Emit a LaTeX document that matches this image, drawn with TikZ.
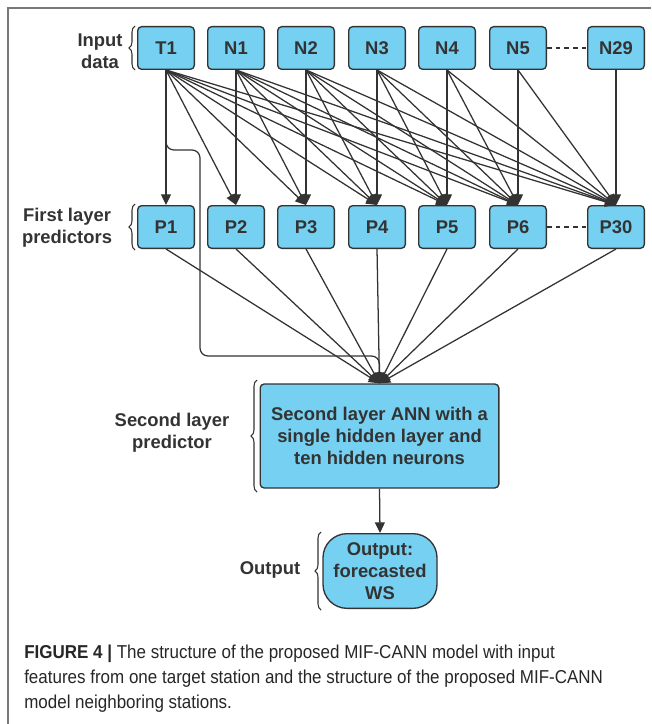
\documentclass[tikz,border=0pt]{standalone}
\usepackage{fontspec}
\setmainfont{Liberation Sans}
\newfontfamily\capfont{Liberation Sans}[FakeStretch=0.91]
\usepackage{tikz}
\usetikzlibrary{arrows.meta,decorations.pathreplacing}
\definecolor{boxblue}{RGB}{117,208,241}
\definecolor{dgray}{RGB}{51,51,51}
\definecolor{framegray}{RGB}{120,120,120}
\begin{document}
\begin{tikzpicture}[x=0.75pt,y=-0.75pt,
	box/.style={draw=dgray,fill=boxblue,line width=1pt,rounded corners=3pt,minimum width=42.5pt,minimum height=32pt,inner sep=0pt,text=dgray,font=\fontsize{13.8}{16.5}\selectfont\bfseries},
	lbl/.style={align=center,text=dgray,font=\fontsize{13.8}{16.8}\selectfont\bfseries},
	link/.style={draw=dgray,line width=0.95pt,-{Triangle[length=8pt,width=7.5pt]}},
	brc/.style={draw=dgray,line width=0.8pt,decorate,decoration={brace,amplitude=4.5pt}},
	dots/.style={draw=dgray,line width=0.9pt,dash pattern=on 3.5pt off 3pt}]
			\useasboundingbox (0,0) rectangle (651,724);
			\draw [framegray,line width=0.9pt] (8,724) -- (8,8) -- (651,8);
			\node [box] (t1) at (166,48) {T1};
			\node [box] (n1) at (236,48) {N1};
			\node [box] (n2) at (306,48) {N2};
			\node [box] (n3) at (377,48) {N3};
			\node [box] (n4) at (447,48) {N4};
			\node [box] (n5) at (518,48) {N5};
			\node [box] (n29) at (616,48) {N29};
			\node [box] (p1) at (166,227) {P1};
			\node [box] (p2) at (236,227) {P2};
			\node [box] (p3) at (306,227) {P3};
			\node [box] (p4) at (377,227) {P4};
			\node [box] (p5) at (447,227) {P5};
			\node [box] (p6) at (518,227) {P6};
			\node [box] (p30) at (616,227) {P30};
			\node [box,minimum width=179pt,minimum height=78pt,align=center] (ann) at (379.5,436) {Second layer ANN with a\\single hidden layer and\\ten hidden neurons};
			\node [box,minimum width=85.5pt,minimum height=56pt,rounded corners=18pt,align=center] (out) at (380,571) {Output:\\forecasted\\WS};
			\node [lbl] (lin) at (100,51) {Input\\data};
			\node [lbl] (lfirst) at (67,228) {First layer\\predictors};
			\node [lbl] (lsecond) at (172,433) {Second layer\\predictor};
			\node [lbl] (lout) at (270,570) {Output};
			\draw [brc] (135,70) -- (135,26);
			\draw [brc] (135,250) -- (135,204);
			\draw [brc] (257,492) -- (257,380);
			\draw [brc] (321,610) -- (321,532);
			\draw [dots] (n5.east) -- (n29.west);
			\draw [dots] (p6.east) -- (p30.west);
			\draw [link] (t1.south) -- (p1.north);
			\draw [link] (t1.south) -- (p2.north);
			\draw [link] (t1.south) -- (p3.north);
			\draw [link] (t1.south) -- (p4.north);
			\draw [link] (t1.south) -- (p5.north);
			\draw [link] (t1.south) -- (p6.north);
			\draw [link] (t1.south) -- (p30.north);
			\draw [link] (n1.south) -- (p2.north);
			\draw [link] (n1.south) -- (p3.north);
			\draw [link] (n1.south) -- (p4.north);
			\draw [link] (n1.south) -- (p5.north);
			\draw [link] (n1.south) -- (p6.north);
			\draw [link] (n1.south) -- (p30.north);
			\draw [link] (n2.south) -- (p3.north);
			\draw [link] (n2.south) -- (p4.north);
			\draw [link] (n2.south) -- (p5.north);
			\draw [link] (n2.south) -- (p6.north);
			\draw [link] (n2.south) -- (p30.north);
			\draw [link] (n3.south) -- (p4.north);
			\draw [link] (n3.south) -- (p5.north);
			\draw [link] (n3.south) -- (p6.north);
			\draw [link] (n3.south) -- (p30.north);
			\draw [link] (n4.south) -- (p5.north);
			\draw [link] (n4.south) -- (p6.north);
			\draw [link] (n4.south) -- (p30.north);
			\draw [link] (n5.south) -- (p6.north);
			\draw [link] (n5.south) -- (p30.north);
			\draw [link] (n29.south) -- (p30.north);
			\draw [link,rounded corners=6pt] (t1.south) |- (200,150) -- (200,356) -| (ann.north);
			\draw [link] (p1.south) -- (ann.north);
			\draw [link] (p2.south) -- (ann.north);
			\draw [link] (p3.south) -- (ann.north);
			\draw [link] (p4.south) -- (ann.north);
			\draw [link] (p5.south) -- (ann.north);
			\draw [link] (p6.south) -- (ann.north);
			\draw [link] (p30.south) -- (ann.north);
			\draw [link] (ann.south) -- (out.north);
			\node [anchor=north west,align=left,inner sep=0pt,font=\capfont\fontsize{14}{18.6}\selectfont,text=black!85] (cap) at (24,645) {\textbf{FIGURE 4 |} The structure of the proposed MIF-CANN model with input\\features from one target station and the structure of the proposed MIF-CANN\\model neighboring stations.};
\end{tikzpicture}
\end{document}
